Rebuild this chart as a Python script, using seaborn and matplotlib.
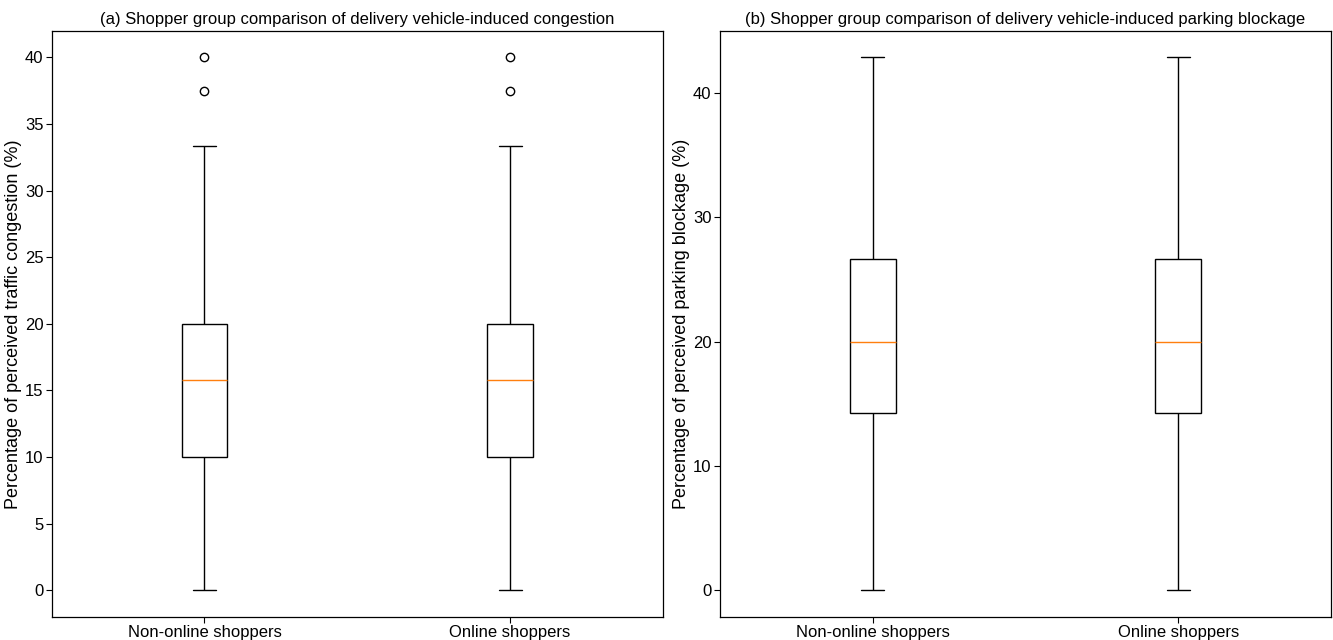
import matplotlib
matplotlib.use("Agg")
import matplotlib.pyplot as plt
import pandas as pd
import seaborn as sns

sns.set_style("ticks", {"axes.edgecolor": "black", "text.color": "black",
                        "axes.labelcolor": "black", "xtick.color": "black",
                        "ytick.color": "black"})
plt.rcParams["font.family"] = ["Liberation Sans", "DejaVu Sans"]

groups = ["Non-online shoppers", "Online shoppers"]

# values read off the boxes: whisker ends, quartiles, median, outliers
# (a) congestion: q1=10, median=15.8, q3=20, whiskers 0..33.3, outliers 37.5, 40
congestion = [0, 0, 0, 10, 10, 10, 15.8, 20, 20, 20, 33.33, 37.5, 40]
# (b) parking blockage: q1=14.29, median=20, q3=26.67, whiskers 0..42.86
parking = [0, 14.29, 20, 26.67, 42.86]

titles = ["(a) Shopper group comparison of delivery vehicle-induced congestion",
          "(b) Shopper group comparison of delivery vehicle-induced parking blockage"]
ylabels = ["Percentage of perceived traffic congestion (%)",
           "Percentage of perceived parking blockage (%)"]

fig, axes = plt.subplots(1, 2, figsize=(13.33, 6.4), dpi=100)
fig.subplots_adjust(left=0.0388, right=0.9985, top=0.952, bottom=0.036, wspace=0.0934)

for ax, values, title, ylabel in zip(axes, [congestion, parking], titles, ylabels):
    df = pd.DataFrame({
        "group": [g for g in groups for _ in values],
        "value": values * len(groups),
    })
    sns.boxplot(data=df, x="group", y="value", ax=ax, width=0.15,
                color="white", linecolor="black", linewidth=1,
                capwidths=0.075,
                medianprops={"color": "#ff7f0e", "linewidth": 1},
                flierprops={"marker": "o", "markerfacecolor": "none",
                            "markeredgecolor": "black", "markersize": 6})
    ax.set_xlim(-0.5, 1.5)
    ax.set_title(title, fontsize=12, pad=5, color="black")
    ax.set_xlabel("")
    ax.set_ylabel(ylabel, fontsize=13, labelpad=2, color="black")
    ax.tick_params(axis="both", labelsize=12, length=4, width=0.8, pad=2,
                   colors="black")
    for s in ax.spines.values():
        s.set_linewidth(0.9)
        s.set_color("black")

plt.savefig("out.png", dpi=100)
